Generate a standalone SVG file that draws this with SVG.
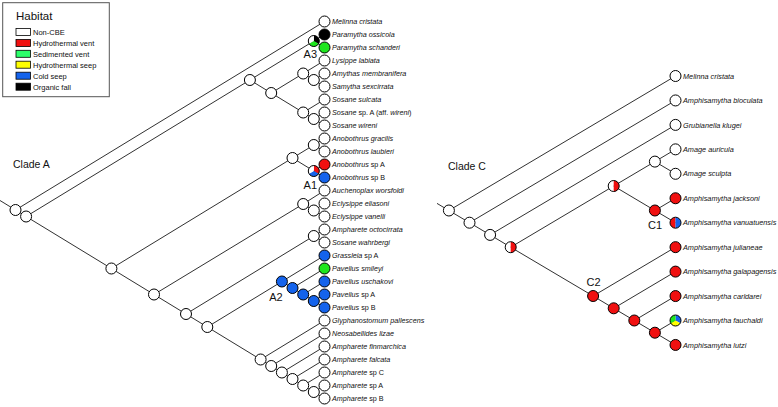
<svg xmlns="http://www.w3.org/2000/svg" xmlns:xlink="http://www.w3.org/1999/xlink" width="778" height="407" viewBox="0 0 778 407">
<style>
.bg{fill:#fff}
.e line{stroke:#1a1a1a;stroke-width:0.9;fill:none}
.n{fill:#fff;stroke:#000;stroke-width:1}
.o{fill:none;stroke:#000;stroke-width:1}
.red{fill:#f01010}
.blu{fill:#1463ec}
.grn{fill:#1ee61e}
.blk{fill:#000}
.yel{fill:#ffff00}
.wht{fill:#fff}
.ta{font-family:"Liberation Sans",Arial,sans-serif;font-style:italic;font-size:7.2px;fill:#111}
.tc{font-family:"Liberation Sans",Arial,sans-serif;font-style:italic;font-size:7.3px;fill:#111}
.up{font-style:normal}
.lbl{font-family:"Liberation Sans",Arial,sans-serif;font-size:11px;fill:#111;text-anchor:middle}
.clade{font-family:"Liberation Sans",Arial,sans-serif;font-size:10.5px;fill:#111}
.lg{font-family:"Liberation Sans",Arial,sans-serif;font-size:7.5px;fill:#111}
.sw{stroke:#000;stroke-width:0.8}
</style>
<defs>
<path id="s1" d="M0,0 L0,-5.5 A5.5,5.5 0 0,1 4.763,2.75 Z"/>
<path id="s2" d="M0,0 L4.763,2.75 A5.5,5.5 0 0,1 -4.763,2.75 Z"/>
<path id="s3" d="M0,0 L-4.763,2.75 A5.5,5.5 0 0,1 0,-5.5 Z"/>
<path id="hl" d="M0,-5.5 A5.5,5.5 0 0,0 0,5.5 Z"/>
<path id="hr" d="M0,-5.5 A5.5,5.5 0 0,1 0,5.5 Z"/>
</defs>
<rect class="bg" x="0" y="0" width="778" height="407"/>

<g id="legend">
<rect x="2.7" y="2.7" width="106.6" height="94" fill="#fff" stroke="#555" stroke-width="1"/>
<text x="16" y="20" font-family="Liberation Sans,Arial,sans-serif" font-size="11.5" fill="#111">Habitat</text>
<rect class="sw wht" x="16" y="28.5" width="14.5" height="7"/><text class="lg" x="33" y="35">Non-CBE</text>
<rect class="sw red" x="16" y="39.5" width="14.5" height="7"/><text class="lg" x="33" y="46">Hydrothermal vent</text>
<rect class="sw" fill="#2bff6a" x="16" y="50.3" width="14.5" height="7"/><text class="lg" x="33" y="56.8">Sedimented vent</text>
<rect class="sw yel" x="16" y="61.2" width="14.5" height="7"/><text class="lg" x="33" y="67.7">Hydrothermal seep</text>
<rect class="sw blu" x="16" y="72.2" width="14.5" height="7"/><text class="lg" x="33" y="78.7">Cold seep</text>
<rect class="sw blk" x="16" y="83.2" width="14.5" height="7"/><text class="lg" x="33" y="89.7">Organic fall</text>
</g>

<text id="cladeA-label" class="clade" x="13" y="167.5">Clade A</text>
<text id="cladeC-label" class="clade" x="448" y="169.5">Clade C</text>

<g id="connectors" class="e">
<line x1="0" y1="200.5" x2="15.5" y2="210"/>
<line x1="15.5" y1="210" x2="324.5" y2="21.5"/>
<line x1="15.5" y1="210" x2="26.1" y2="216.5"/>
<line x1="26.1" y1="216.5" x2="249.9" y2="80"/>
<line x1="26.1" y1="216.5" x2="111.4" y2="268.5"/>
<line x1="249.9" y1="80" x2="313.8" y2="41"/>
<line x1="249.9" y1="80" x2="271.2" y2="93"/>
<line x1="313.8" y1="41" x2="324.5" y2="34.5"/>
<line x1="313.8" y1="41" x2="324.5" y2="47.5"/>
<line x1="271.2" y1="93" x2="303.2" y2="73.5"/>
<line x1="271.2" y1="93" x2="303.2" y2="112.5"/>
<line x1="303.2" y1="73.5" x2="324.5" y2="60.5"/>
<line x1="303.2" y1="73.5" x2="313.8" y2="80"/>
<line x1="313.8" y1="80" x2="324.5" y2="73.5"/>
<line x1="313.8" y1="80" x2="324.5" y2="86.5"/>
<line x1="303.2" y1="112.5" x2="324.5" y2="99.5"/>
<line x1="303.2" y1="112.5" x2="313.8" y2="119"/>
<line x1="313.8" y1="119" x2="324.5" y2="112.5"/>
<line x1="313.8" y1="119" x2="324.5" y2="125.5"/>
<line x1="111.4" y1="268.5" x2="292.5" y2="158"/>
<line x1="111.4" y1="268.5" x2="154" y2="294.5"/>
<line x1="292.5" y1="158" x2="313.8" y2="145"/>
<line x1="292.5" y1="158" x2="313.8" y2="171"/>
<line x1="313.8" y1="145" x2="324.5" y2="138.5"/>
<line x1="313.8" y1="145" x2="324.5" y2="151.5"/>
<line x1="313.8" y1="171" x2="324.5" y2="164.5"/>
<line x1="313.8" y1="171" x2="324.5" y2="177.5"/>
<line x1="154" y1="294.5" x2="303.2" y2="204"/>
<line x1="154" y1="294.5" x2="186" y2="314"/>
<line x1="303.2" y1="204" x2="324.5" y2="190.5"/>
<line x1="303.2" y1="204" x2="313.8" y2="210.5"/>
<line x1="313.8" y1="210.5" x2="324.5" y2="203.5"/>
<line x1="313.8" y1="210.5" x2="324.5" y2="216.5"/>
<line x1="186" y1="314" x2="313.8" y2="236"/>
<line x1="186" y1="314" x2="207.3" y2="327"/>
<line x1="313.8" y1="236" x2="324.5" y2="229.5"/>
<line x1="313.8" y1="236" x2="324.5" y2="242.5"/>
<line x1="207.3" y1="327" x2="281.9" y2="281.5"/>
<line x1="207.3" y1="327" x2="260.6" y2="359.5"/>
<line x1="281.9" y1="281.5" x2="324.5" y2="255.5"/>
<line x1="281.9" y1="281.5" x2="292.5" y2="288"/>
<line x1="292.5" y1="288" x2="324.5" y2="268.5"/>
<line x1="292.5" y1="288" x2="303.2" y2="294.5"/>
<line x1="303.2" y1="294.5" x2="324.5" y2="281.5"/>
<line x1="303.2" y1="294.5" x2="313.8" y2="301"/>
<line x1="313.8" y1="301" x2="324.5" y2="294.5"/>
<line x1="313.8" y1="301" x2="324.5" y2="307.5"/>
<line x1="260.6" y1="359.5" x2="324.5" y2="320.5"/>
<line x1="260.6" y1="359.5" x2="271.2" y2="366"/>
<line x1="271.2" y1="366" x2="324.5" y2="333.5"/>
<line x1="271.2" y1="366" x2="281.9" y2="372.5"/>
<line x1="281.9" y1="372.5" x2="324.5" y2="346.5"/>
<line x1="281.9" y1="372.5" x2="292.5" y2="379"/>
<line x1="292.5" y1="379" x2="324.5" y2="359.5"/>
<line x1="292.5" y1="379" x2="303.2" y2="385.5"/>
<line x1="303.2" y1="385.5" x2="324.5" y2="372.5"/>
<line x1="303.2" y1="385.5" x2="313.8" y2="392"/>
<line x1="313.8" y1="392" x2="324.5" y2="385.5"/>
<line x1="313.8" y1="392" x2="324.5" y2="398.5"/>
<line x1="437" y1="203.4" x2="448.9" y2="210.5"/>
<line x1="448.9" y1="210.5" x2="675.5" y2="76"/>
<line x1="448.9" y1="210.5" x2="469.5" y2="222.7"/>
<line x1="469.5" y1="222.7" x2="675.5" y2="100.45"/>
<line x1="469.5" y1="222.7" x2="490.1" y2="234.9"/>
<line x1="490.1" y1="234.9" x2="675.5" y2="124.9"/>
<line x1="490.1" y1="234.9" x2="510.7" y2="247.2"/>
<line x1="510.7" y1="247.2" x2="613.7" y2="186"/>
<line x1="510.7" y1="247.2" x2="593.1" y2="296"/>
<line x1="613.7" y1="186" x2="654.9" y2="161.6"/>
<line x1="613.7" y1="186" x2="654.9" y2="210.5"/>
<line x1="654.9" y1="161.6" x2="675.5" y2="149.35"/>
<line x1="654.9" y1="161.6" x2="675.5" y2="173.8"/>
<line x1="654.9" y1="210.5" x2="675.5" y2="198.25"/>
<line x1="654.9" y1="210.5" x2="675.5" y2="222.7"/>
<line x1="593.1" y1="296" x2="675.5" y2="247.15"/>
<line x1="593.1" y1="296" x2="613.7" y2="308.3"/>
<line x1="613.7" y1="308.3" x2="675.5" y2="271.6"/>
<line x1="613.7" y1="308.3" x2="634.3" y2="320.5"/>
<line x1="634.3" y1="320.5" x2="675.5" y2="296.05"/>
<line x1="634.3" y1="320.5" x2="654.9" y2="332.7"/>
<line x1="654.9" y1="332.7" x2="675.5" y2="320.5"/>
<line x1="654.9" y1="332.7" x2="675.5" y2="344.95"/>
</g>

<g id="A-root"><circle class="n" cx="15.5" cy="210" r="5.5"/></g>
<g id="A-n1"><circle class="n" cx="26.1" cy="216.5" r="5.5"/></g>
<g id="A-a"><circle class="n" cx="249.9" cy="80" r="5.5"/></g>
<g id="A-A3" transform="translate(313.8,41)">
<use href="#s1" class="blk"/><use href="#s2" class="grn"/><use href="#s3" class="wht"/><circle class="o" r="5.5"/>
<text class="lbl" x="-3.5" y="16.5">A3</text></g>
<g id="A-b"><circle class="n" cx="271.2" cy="93" r="5.5"/></g>
<g id="A-c"><circle class="n" cx="303.2" cy="73.5" r="5.5"/></g>
<g id="A-d"><circle class="n" cx="313.8" cy="80" r="5.5"/></g>
<g id="A-e"><circle class="n" cx="303.2" cy="112.5" r="5.5"/></g>
<g id="A-f"><circle class="n" cx="313.8" cy="119" r="5.5"/></g>
<g id="A-g"><circle class="n" cx="111.4" cy="268.5" r="5.5"/></g>
<g id="A-h"><circle class="n" cx="292.5" cy="158" r="5.5"/></g>
<g id="A-i"><circle class="n" cx="313.8" cy="145" r="5.5"/></g>
<g id="A-A1" transform="translate(313.8,171)">
<use href="#s1" class="red"/><use href="#s2" class="blu"/><use href="#s3" class="wht"/><circle class="o" r="5.5"/>
<text class="lbl" x="-3.5" y="18">A1</text></g>
<g id="A-j"><circle class="n" cx="154" cy="294.5" r="5.5"/></g>
<g id="A-k"><circle class="n" cx="303.2" cy="204" r="5.5"/></g>
<g id="A-l"><circle class="n" cx="313.8" cy="210.5" r="5.5"/></g>
<g id="A-m"><circle class="n" cx="186" cy="314" r="5.5"/></g>
<g id="A-o"><circle class="n" cx="313.8" cy="236" r="5.5"/></g>
<g id="A-p"><circle class="n" cx="207.3" cy="327" r="5.5"/></g>
<g id="A-A2"><circle class="n blu" cx="281.9" cy="281.5" r="5.5"/><text class="lbl" x="276" y="301">A2</text></g>
<g id="A-A2b"><circle class="n blu" cx="292.5" cy="288" r="5.5"/></g>
<g id="A-A2c"><circle class="n blu" cx="303.2" cy="294.5" r="5.5"/></g>
<g id="A-A2d"><circle class="n blu" cx="313.8" cy="301" r="5.5"/></g>
<g id="A-q"><circle class="n" cx="260.6" cy="359.5" r="5.5"/></g>
<g id="A-r"><circle class="n" cx="271.2" cy="366" r="5.5"/></g>
<g id="A-s"><circle class="n" cx="281.9" cy="372.5" r="5.5"/></g>
<g id="A-t"><circle class="n" cx="292.5" cy="379" r="5.5"/></g>
<g id="A-u"><circle class="n" cx="303.2" cy="385.5" r="5.5"/></g>
<g id="A-v"><circle class="n" cx="313.8" cy="392" r="5.5"/></g>

<g id="A-t0"><circle class="n" cx="324.5" cy="21.5" r="5.5"/><text class="ta" x="332" y="24">Melinna cristata</text></g>
<g id="A-t1"><circle class="n blk" cx="324.5" cy="34.5" r="5.5"/><text class="ta" x="332" y="37">Paramytha ossicola</text></g>
<g id="A-t2"><circle class="n grn" cx="324.5" cy="47.5" r="5.5"/><text class="ta" x="332" y="50">Paramytha schanderi</text></g>
<g id="A-t3"><circle class="n" cx="324.5" cy="60.5" r="5.5"/><text class="ta" x="332" y="63">Lysippe labiata</text></g>
<g id="A-t4"><circle class="n" cx="324.5" cy="73.5" r="5.5"/><text class="ta" x="332" y="76">Amythas membranifera</text></g>
<g id="A-t5"><circle class="n" cx="324.5" cy="86.5" r="5.5"/><text class="ta" x="332" y="89">Samytha sexcirrata</text></g>
<g id="A-t6"><circle class="n" cx="324.5" cy="99.5" r="5.5"/><text class="ta" x="332" y="102">Sosane sulcata</text></g>
<g id="A-t7"><circle class="n" cx="324.5" cy="112.5" r="5.5"/><text class="ta" x="332" y="115">Sosane <tspan class="up">sp. A (aff. </tspan>wireni<tspan class="up">)</tspan></text></g>
<g id="A-t8"><circle class="n" cx="324.5" cy="125.5" r="5.5"/><text class="ta" x="332" y="128">Sosane wireni</text></g>
<g id="A-t9"><circle class="n" cx="324.5" cy="138.5" r="5.5"/><text class="ta" x="332" y="141">Anobothrus gracilis</text></g>
<g id="A-t10"><circle class="n" cx="324.5" cy="151.5" r="5.5"/><text class="ta" x="332" y="154">Anobothrus laubieri</text></g>
<g id="A-t11"><circle class="n red" cx="324.5" cy="164.5" r="5.5"/><text class="ta" x="332" y="167">Anobothrus <tspan class="up">sp A</tspan></text></g>
<g id="A-t12"><circle class="n blu" cx="324.5" cy="177.5" r="5.5"/><text class="ta" x="332" y="180">Anobothrus <tspan class="up">sp B</tspan></text></g>
<g id="A-t13"><circle class="n" cx="324.5" cy="190.5" r="5.5"/><text class="ta" x="332" y="193">Auchenoplax worsfoldi</text></g>
<g id="A-t14"><circle class="n" cx="324.5" cy="203.5" r="5.5"/><text class="ta" x="332" y="206">Eclysippe eliasoni</text></g>
<g id="A-t15"><circle class="n" cx="324.5" cy="216.5" r="5.5"/><text class="ta" x="332" y="219">Eclysippe vanelli</text></g>
<g id="A-t16"><circle class="n" cx="324.5" cy="229.5" r="5.5"/><text class="ta" x="332" y="232">Ampharete octocirrata</text></g>
<g id="A-t17"><circle class="n" cx="324.5" cy="242.5" r="5.5"/><text class="ta" x="332" y="245">Sosane wahrbergi</text></g>
<g id="A-t18"><circle class="n blu" cx="324.5" cy="255.5" r="5.5"/><text class="ta" x="332" y="258">Grassleia <tspan class="up">sp A</tspan></text></g>
<g id="A-t19"><circle class="n grn" cx="324.5" cy="268.5" r="5.5"/><text class="ta" x="332" y="271">Pavelius smileyi</text></g>
<g id="A-t20"><circle class="n blu" cx="324.5" cy="281.5" r="5.5"/><text class="ta" x="332" y="284">Pavelius uschakovi</text></g>
<g id="A-t21"><circle class="n blu" cx="324.5" cy="294.5" r="5.5"/><text class="ta" x="332" y="297">Pavelius <tspan class="up">sp A</tspan></text></g>
<g id="A-t22"><circle class="n blu" cx="324.5" cy="307.5" r="5.5"/><text class="ta" x="332" y="310">Pavelius <tspan class="up">sp B</tspan></text></g>
<g id="A-t23"><circle class="n" cx="324.5" cy="320.5" r="5.5"/><text class="ta" x="332" y="323">Glyphanostomum pallescens</text></g>
<g id="A-t24"><circle class="n" cx="324.5" cy="333.5" r="5.5"/><text class="ta" x="332" y="336">Neosabellides lizae</text></g>
<g id="A-t25"><circle class="n" cx="324.5" cy="346.5" r="5.5"/><text class="ta" x="332" y="349">Ampharete finmarchica</text></g>
<g id="A-t26"><circle class="n" cx="324.5" cy="359.5" r="5.5"/><text class="ta" x="332" y="362">Ampharete falcata</text></g>
<g id="A-t27"><circle class="n" cx="324.5" cy="372.5" r="5.5"/><text class="ta" x="332" y="375">Ampharete <tspan class="up">sp C</tspan></text></g>
<g id="A-t28"><circle class="n" cx="324.5" cy="385.5" r="5.5"/><text class="ta" x="332" y="388">Ampharete <tspan class="up">sp A</tspan></text></g>
<g id="A-t29"><circle class="n" cx="324.5" cy="398.5" r="5.5"/><text class="ta" x="332" y="401">Ampharete <tspan class="up">sp B</tspan></text></g>

<g id="C-root"><circle class="n" cx="448.9" cy="210.5" r="5.5"/></g>
<g id="C-n1"><circle class="n" cx="469.5" cy="222.7" r="5.5"/></g>
<g id="C-n2"><circle class="n" cx="490.1" cy="234.9" r="5.5"/></g>
<g id="C-n3" transform="translate(510.7,247.2)"><use href="#hl" class="wht"/><use href="#hr" class="red"/><circle class="o" r="5.5"/></g>
<g id="C-n4" transform="translate(613.7,186)"><use href="#hl" class="wht"/><use href="#hr" class="red"/><circle class="o" r="5.5"/></g>
<g id="C-n5"><circle class="n" cx="654.9" cy="161.6" r="5.5"/></g>
<g id="C-C1"><circle class="n red" cx="654.9" cy="210.5" r="5.5"/><text class="lbl" x="655" y="228.5">C1</text></g>
<g id="C-C2"><circle class="n red" cx="593.1" cy="296" r="5.5"/><text class="lbl" x="593.5" y="286">C2</text></g>
<g id="C-n7"><circle class="n red" cx="613.7" cy="308.3" r="5.5"/></g>
<g id="C-n8"><circle class="n red" cx="634.3" cy="320.5" r="5.5"/></g>
<g id="C-n9"><circle class="n red" cx="654.9" cy="332.7" r="5.5"/></g>

<g id="C-t0"><circle class="n" cx="675.5" cy="76" r="5.5"/><text class="tc" x="683" y="78.6">Melinna cristata</text></g>
<g id="C-t1"><circle class="n" cx="675.5" cy="100.45" r="5.5"/><text class="tc" x="683" y="103">Amphisamytha bioculata</text></g>
<g id="C-t2"><circle class="n" cx="675.5" cy="124.9" r="5.5"/><text class="tc" x="683" y="127.5">Grubianella klugei</text></g>
<g id="C-t3"><circle class="n" cx="675.5" cy="149.35" r="5.5"/><text class="tc" x="683" y="152">Amage auricula</text></g>
<g id="C-t4"><circle class="n" cx="675.5" cy="173.8" r="5.5"/><text class="tc" x="683" y="176.4">Amage sculpta</text></g>
<g id="C-t5"><circle class="n red" cx="675.5" cy="198.25" r="5.5"/><text class="tc" x="683" y="200.8">Amphisamytha jacksoni</text></g>
<g id="C-t6"><g transform="translate(675.5,222.7)"><use href="#hl" class="red"/><use href="#hr" class="blu"/><circle class="o" r="5.5"/></g><text class="tc" x="683" y="225.3">Amphisamytha vanuatuensis</text></g>
<g id="C-t7"><circle class="n red" cx="675.5" cy="247.15" r="5.5"/><text class="tc" x="683" y="249.7">Amphisamytha julianeae</text></g>
<g id="C-t8"><circle class="n red" cx="675.5" cy="271.6" r="5.5"/><text class="tc" x="683" y="274.2">Amphisamytha galapagensis</text></g>
<g id="C-t9"><circle class="n red" cx="675.5" cy="296.05" r="5.5"/><text class="tc" x="683" y="298.6">Amphisamytha carldarei</text></g>
<g id="C-t10"><g transform="translate(675.5,320.5)"><use href="#s1" class="blu"/><use href="#s2" class="yel"/><use href="#s3" class="grn"/><circle class="o" r="5.5"/></g><text class="tc" x="683" y="323.1">Amphisamytha fauchaldi</text></g>
<g id="C-t11"><circle class="n red" cx="675.5" cy="344.95" r="5.5"/><text class="tc" x="683" y="347.5">Amphisamytha lutzi</text></g>
</svg>
